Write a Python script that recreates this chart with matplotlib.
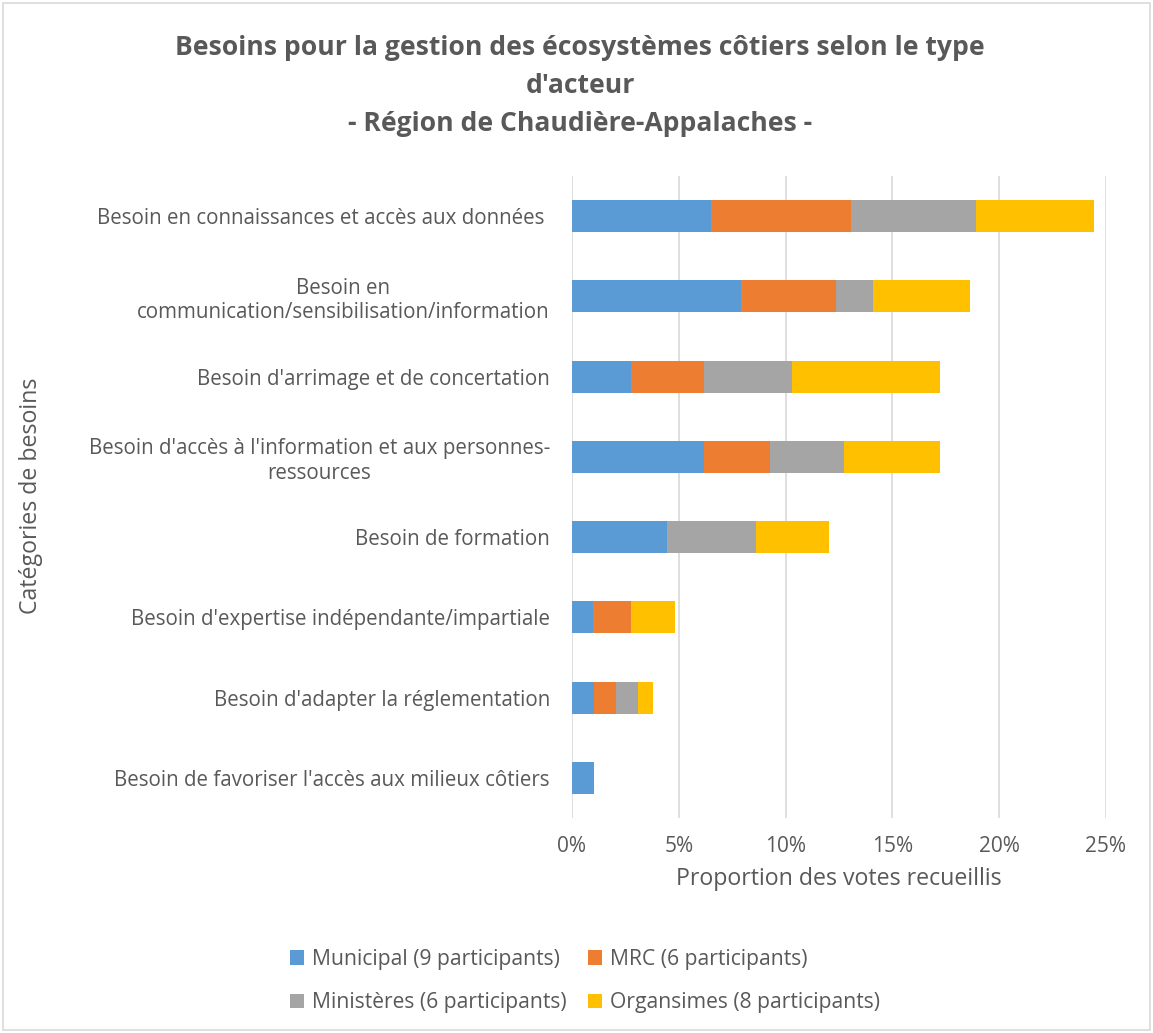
import matplotlib
matplotlib.use("Agg")
import matplotlib.pyplot as plt
from matplotlib.patches import Rectangle, Patch

plt.rcParams['font.family'] = ['Open Sans', 'DejaVu Sans']

categories = [
    "Besoin en connaissances et accès aux données ",
    "Besoin en\ncommunication/sensibilisation/information",
    "Besoin d'arrimage et de concertation",
    "Besoin d'accès à l'information et aux personnes-\nressources",
    "Besoin de formation",
    "Besoin d'expertise indépendante/impartiale",
    "Besoin d'adapter la réglementation",
    "Besoin de favoriser l'accès aux milieux côtiers",
]
series_names = ["Municipal (9 participants)", "MRC (6 participants)",
                "Ministères (6 participants)", "Organsimes (8 participants)"]
municipal = [6.52, 7.91, 2.75, 6.19, 4.46, 1.00, 1.02, 1.02]
mrc = [6.55, 4.46, 3.44, 3.08, 0.00, 1.75, 1.05, 0.00]
ministeres = [5.85, 1.74, 4.11, 3.46, 4.15, 0.00, 1.02, 0.00]
organismes = [5.53, 4.50, 6.93, 4.50, 3.44, 2.08, 0.70, 0.00]
xticks = [0, 5, 10, 15, 20, 25]

colors = ["#5B9BD5", "#ED7D31", "#A5A5A5", "#FFC000"]
txt = "#595959"

W, H = 1153, 1033
fig = plt.figure(figsize=(W / 100, H / 100), dpi=100)
fig.patches.append(Rectangle((3 / W, 3 / H), (W - 6) / W, (H - 6) / H,
                             transform=fig.transFigure, fill=False,
                             edgecolor="#D9D9D9", linewidth=1.2))

ax = fig.add_axes([572 / W, (H - 818) / H, (1106 - 572) / W, (818 - 176) / H])
ypos = list(range(len(categories)))
left = [0.0] * len(categories)
for vals, c, name in zip([municipal, mrc, ministeres, organismes], colors, series_names):
    ax.barh(ypos, vals, left=left, height=0.4, color=c, label=name)
    left = [l + v for l, v in zip(left, vals)]

ax.set_ylim(len(categories) - 0.5, -0.5)
ax.set_xlim(0, 25)
ax.set_xticks(xticks)
ax.set_xticklabels([f"{t}%" for t in xticks], fontsize=15, color=txt)
ax.set_yticks(ypos)
ax.set_yticklabels(categories, fontsize=14.8, color=txt, multialignment='center')
ax.tick_params(axis='both', length=0)
ax.tick_params(axis='y', pad=16)
ax.tick_params(axis='x', pad=13)
ax.grid(axis='x', color="#D9D9D9", linewidth=1.2)
ax.set_axisbelow(True)
for s in ax.spines.values():
    s.set_visible(False)

ax.set_xlabel("Proportion des votes recueillis", fontsize=16.7, color=txt, labelpad=7)
fig.text(31 / W, 1 - 496 / H, "Catégories de besoins", rotation=90, fontsize=16.7,
         color=txt, ha='center', va='center')

fig.text(580 / W, 1 - 86 / H,
         "Besoins pour la gestion des écosystèmes côtiers selon le type\nd'acteur\n- Région de Chaudière-Appalaches -",
         ha='center', va='center', fontsize=19.1, fontweight='bold', color=txt,
         linespacing=1.6)

handles = [Patch(facecolor=c) for c in colors]
order = [0, 2, 1, 3]
fig.legend([handles[i] for i in order], [series_names[i] for i in order],
           ncol=2, loc='center', bbox_to_anchor=(585 / W, 1 - 981 / H),
           frameon=False, fontsize=15.2, labelcolor=txt, handlelength=0.65,
           handleheight=0.65, handletextpad=0.4, columnspacing=1.0,
           labelspacing=1.05)

fig.savefig("out.png", dpi=100, facecolor="white")
